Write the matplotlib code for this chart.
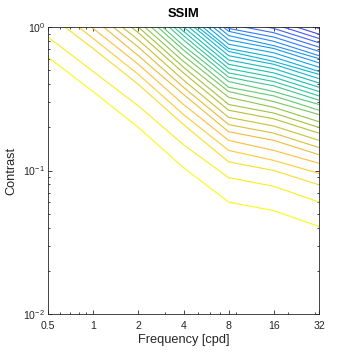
import matplotlib
matplotlib.use("Agg")
import matplotlib.pyplot as plt
from matplotlib.colors import LinearSegmentedColormap
from matplotlib.ticker import FixedLocator, NullFormatter, LogLocator, FixedFormatter
import numpy as np

# Frequencies (cpd) at which each contour line is sampled
freqs = [0.5, 1, 2, 4, 8, 16, 32]
x_tick_labels = ["0.5", "1", "2", "4", "8", "16", "32"]

# log10(contrast) of each SSIM contour line (bottom/yellow first, top/blue last)
line_log_contrast = [
    [-0.21, -0.45, -0.70, -0.98, -1.22, -1.28, -1.39],
    [-0.07, -0.31, -0.55, -0.82, -1.05, -1.11, -1.22],
    [0.09, -0.15, -0.40, -0.68, -0.94, -1.00, -1.10],
    [0.17, -0.08, -0.33, -0.61, -0.86, -0.93, -1.02],
    [0.24, -0.01, -0.26, -0.54, -0.79, -0.86, -0.95],
    [0.30, 0.06, -0.20, -0.47, -0.73, -0.79, -0.89],
    [0.36, 0.11, -0.14, -0.42, -0.68, -0.74, -0.84],
    [0.40, 0.16, -0.09, -0.37, -0.63, -0.69, -0.79],
    [0.45, 0.21, -0.04, -0.32, -0.58, -0.64, -0.74],
    [0.49, 0.25, 0.00, -0.28, -0.54, -0.60, -0.70],
    [0.54, 0.29, 0.04, -0.24, -0.49, -0.56, -0.66],
    [0.58, 0.33, 0.08, -0.20, -0.45, -0.52, -0.61],
    [0.61, 0.37, 0.12, -0.16, -0.42, -0.48, -0.58],
    [0.65, 0.40, 0.15, -0.13, -0.38, -0.45, -0.54],
    [0.68, 0.44, 0.19, -0.09, -0.35, -0.41, -0.51],
    [0.71, 0.47, 0.22, -0.06, -0.32, -0.38, -0.48],
    [0.75, 0.50, 0.25, -0.03, -0.29, -0.35, -0.45],
    [0.77, 0.53, 0.28, 0.00, -0.26, -0.32, -0.42],
    [0.80, 0.56, 0.31, 0.03, -0.23, -0.29, -0.39],
    [0.83, 0.59, 0.33, 0.06, -0.20, -0.26, -0.36],
    [0.86, 0.61, 0.36, 0.08, -0.17, -0.24, -0.33],
    [0.89, 0.64, 0.39, 0.11, -0.15, -0.21, -0.31],
    [0.91, 0.67, 0.42, 0.14, -0.12, -0.18, -0.28],
    [0.94, 0.70, 0.45, 0.17, -0.09, -0.15, -0.25],
    [0.97, 0.72, 0.47, 0.20, -0.06, -0.13, -0.22],
    [1.00, 0.75, 0.50, 0.22, -0.03, -0.10, -0.20],
    [1.02, 0.78, 0.53, 0.25, -0.01, -0.07, -0.17],
    [1.05, 0.81, 0.56, 0.28, 0.02, -0.04, -0.14],
    [1.08, 0.84, 0.59, 0.31, 0.05, -0.01, -0.11],
    [1.11, 0.87, 0.62, 0.34, 0.08, 0.02, -0.08],
    [1.15, 0.90, 0.65, 0.37, 0.11, 0.05, -0.05],
    [1.18, 0.93, 0.68, 0.40, 0.15, 0.08, -0.01],
]

# SSIM level of each line (colour index)
levels = [1.0 - 0.03 * i for i in range(len(line_log_contrast))]

parula_anchors = [
    (0.000, (0.2422, 0.1504, 0.6603)),
    (0.125, (0.2780, 0.3340, 0.9660)),
    (0.250, (0.1480, 0.5400, 0.9650)),
    (0.375, (0.0600, 0.6800, 0.8600)),
    (0.500, (0.1000, 0.7500, 0.7000)),
    (0.625, (0.3600, 0.7900, 0.4600)),
    (0.750, (0.6900, 0.7550, 0.2000)),
    (0.875, (0.9950, 0.7350, 0.2400)),
    (1.000, (0.9769, 0.9839, 0.0805)),
]
parula = LinearSegmentedColormap.from_list("parula", parula_anchors)

plt.rcParams["font.family"] = ["Liberation Sans", "DejaVu Sans"]
txt = (0.15, 0.15, 0.15)

fig = plt.figure(figsize=(3.54, 3.54), dpi=100)
ax = fig.add_axes([48 / 354, 1 - 314 / 354, (319 - 48) / 354, (314 - 27) / 354])

for lvl, lc in zip(levels, line_log_contrast):
    ax.plot(freqs, 10 ** np.array(lc), color=parula(lvl), lw=0.8, solid_joinstyle="miter")

ax.set_xscale("log")
ax.set_yscale("log")
ax.set_xlim(0.5, 32)
ax.set_ylim(0.01, 1)

ax.xaxis.set_major_locator(FixedLocator(freqs))
ax.xaxis.set_major_formatter(FixedFormatter(x_tick_labels))
ax.xaxis.set_minor_locator(LogLocator(base=10, subs=np.arange(2, 10)))
ax.xaxis.set_minor_formatter(NullFormatter())
ax.yaxis.set_minor_locator(LogLocator(base=10, subs=np.arange(2, 10)))
ax.yaxis.set_minor_formatter(NullFormatter())

ax.tick_params(which="both", direction="in", top=True, right=True, colors=txt,
               labelsize=7.6, width=0.6)
ax.tick_params(which="major", length=3)
ax.tick_params(which="minor", length=1.6)
ax.tick_params(axis="x", pad=5)
ax.tick_params(axis="y", pad=2)
for s in ax.spines.values():
    s.set_color(txt)
    s.set_linewidth(0.6)

ax.set_xlabel("Frequency [cpd]", fontsize=9.2, color=txt, labelpad=2)
ax.set_ylabel("Contrast", fontsize=9.2, color=txt, labelpad=4)
ax.set_title("SSIM", fontsize=9.4, fontweight="bold", color="black", pad=7)

fig.savefig("out.png", dpi=100)
